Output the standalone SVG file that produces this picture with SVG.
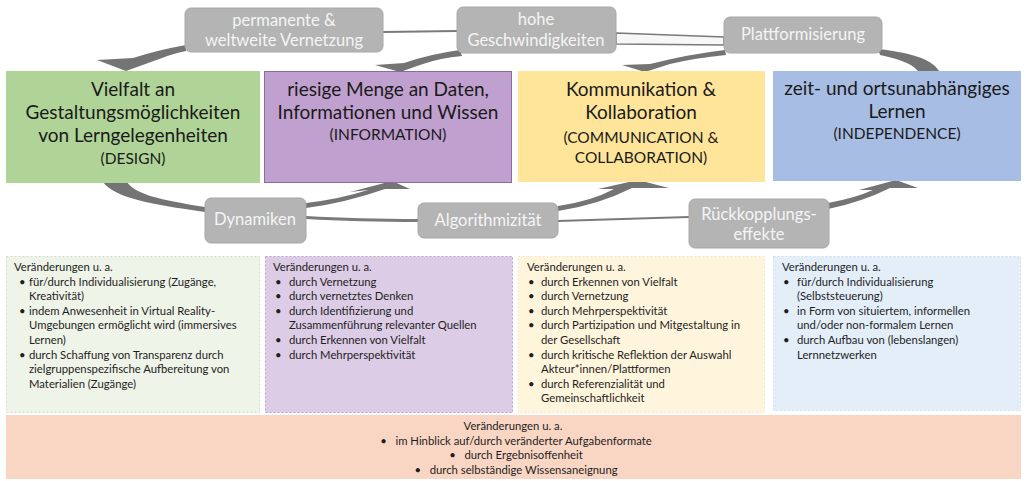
<svg xmlns="http://www.w3.org/2000/svg" width="1026" height="481" viewBox="0 0 1026 481">
<style>
.big{font-family:Lato,"Liberation Sans",sans-serif;font-size:19px;fill:#1a1a1a;text-anchor:middle}
.sub{font-family:Lato,"Liberation Sans",sans-serif;font-size:15.5px;fill:#1a1a1a;text-anchor:middle}
.lbl{fill:#b4b4b4;stroke:#a8a8a8;stroke-width:1}
.lt{font-family:Lato,"Liberation Sans",sans-serif;font-size:16.5px;fill:#f4f4f4;text-anchor:middle}
.sm{font-family:Lato,"Liberation Sans",sans-serif;font-size:11.3px;fill:#1e1e1e}
.smc{font-family:Lato,"Liberation Sans",sans-serif;font-size:11.3px;fill:#1e1e1e;text-anchor:middle;white-space:pre}
.arr{fill:#747474}
.ln{fill:none;stroke:#7a7a7a;stroke-width:2}
</style>
<rect width="1026" height="481" fill="#ffffff"/>

<g id="connectors">
  <path class="ln" d="M383 32 L457 31"/>
  <path d="M616 33 C650 34 690 36 724 37 L724 45 C690 45 650 44 616 44 Z" fill="#f7f7f7" stroke="#7a7a7a" stroke-width="1.5"/>
  <path class="arr" d="M186 45 Q158 50 133 58 L97 60 L126 71 L162 58 Q172 54 186 51 Z"/>
  <path class="arr" d="M460 50 Q430 54 404 63 L375 65 L400 72 L423 64 Q440 58 462 56 Z"/>
  <path class="arr" d="M725 50 Q690 54 650 64 L622 65 L645 72 L670 64 Q695 58 726 55 Z"/>
  <path class="arr" d="M878 49 C905 52 932 58 939 71 L918 71 C912 63 895 58 880 55 Z"/>
  <path class="arr" d="M103 182 C115 198 150 204 205 212 L205 207 C160 200 135 194 127 182 Z"/>
  <path class="arr" d="M306 203 Q340 199 368 190 L350 192 L392 181 L410 189 L385 189 Q345 203 306 208 Z"/>
  <path d="M306 216 C340 218 380 219 418 219 L418 222 C380 222 340 221 306 219 Z" fill="#7a7a7a"/>
  <path class="arr" d="M558 206 Q592 201 614 189 L598 189 L638 180 L669 188 L632 188 Q598 205 558 211 Z"/>
  <path class="ln" d="M558 221 C600 220 650 218 689 217"/>
  <path class="arr" d="M828 203 Q855 198 873 190 L859 190 L896 180 L918 188 L890 188 Q862 202 828 209 Z"/>
</g>

<g id="lbl-vernetzung">
  <rect class="lbl" x="185" y="8" width="198" height="44" rx="6"/>
  <text class="lt" x="284" y="26">permanente &amp;</text>
  <text class="lt" x="284" y="46">weltweite Vernetzung</text>
</g>
<g id="lbl-geschwindigkeiten">
  <rect class="lbl" x="457" y="7" width="159" height="46" rx="6"/>
  <text class="lt" x="536" y="25">hohe</text>
  <text class="lt" x="536" y="46">Geschwindigkeiten</text>
</g>
<g id="lbl-plattformisierung">
  <rect class="lbl" x="724" y="17" width="158" height="36" rx="6"/>
  <text class="lt" x="803" y="40">Plattformisierung</text>
</g>
<g id="lbl-dynamiken">
  <rect class="lbl" x="205" y="198" width="101" height="45" rx="6"/>
  <text class="lt" x="255" y="225">Dynamiken</text>
</g>
<g id="lbl-algorithmizitaet">
  <rect class="lbl" x="418" y="203" width="140" height="35" rx="6"/>
  <text class="lt" x="488" y="226">Algorithmizität</text>
</g>
<g id="lbl-rueckkopplung">
  <rect class="lbl" x="689" y="199" width="140" height="49" rx="6"/>
  <text class="lt" x="759" y="220">Rückkopplungs-</text>
  <text class="lt" x="759" y="240">effekte</text>
</g>

<g id="design">
  <rect x="6" y="71" width="254" height="112" fill="#b0d498"/>
  <text class="big" x="133" y="96">Vielfalt an</text>
  <text class="big" x="133" y="119">Gestaltungsmöglichkeiten</text>
  <text class="big" x="133" y="142">von Lerngelegenheiten</text>
  <text class="sub" x="133" y="164">(DESIGN)</text>
</g>
<g id="information">
  <rect x="264.5" y="71.5" width="247" height="111" fill="#c0a0ce" stroke="#8e6aa4" stroke-width="1"/>
  <text class="big" x="388" y="96">riesige Menge an Daten,</text>
  <text class="big" x="388" y="119">Informationen und Wissen</text>
  <text class="sub" x="388" y="140">(INFORMATION)</text>
</g>
<g id="communication">
  <rect x="518" y="71" width="247" height="111" fill="#ffe599"/>
  <text class="big" x="641" y="96">Kommunikation &amp;</text>
  <text class="big" x="641" y="119">Kollaboration</text>
  <text class="sub" x="641" y="143">(COMMUNICATION &amp;</text>
  <text class="sub" x="641" y="163">COLLABORATION)</text>
</g>
<g id="independence">
  <rect x="773" y="71" width="248" height="110" fill="#a8bde4"/>
  <text class="big" x="897" y="95">zeit- und ortsunabhängiges</text>
  <text class="big" x="897" y="118">Lernen</text>
  <text class="sub" x="897" y="139">(INDEPENDENCE)</text>
</g>

<g id="changes-design">
  <rect x="6.5" y="256.5" width="253" height="156" fill="#eef4e8" stroke="#d3dccb" stroke-dasharray="2 2"/>
  <text class="sm" x="14" y="271">Veränderungen u. a.</text>
  <text class="sm" x="19" y="285.6">•</text><text class="sm" x="29" y="285.6">für/durch Individualisierung (Zugänge,</text>
  <text class="sm" x="29" y="300.2">Kreativität)</text>
  <text class="sm" x="19" y="314.8">•</text><text class="sm" x="29" y="314.8">indem Anwesenheit in Virtual Reality-</text>
  <text class="sm" x="29" y="329.4">Umgebungen ermöglicht wird (immersives</text>
  <text class="sm" x="29" y="344">Lernen)</text>
  <text class="sm" x="19" y="358.6">•</text><text class="sm" x="29" y="358.6">durch Schaffung von Transparenz durch</text>
  <text class="sm" x="29" y="373.2">zielgruppenspezifische Aufbereitung von</text>
  <text class="sm" x="29" y="387.8">Materialien (Zugänge)</text>
</g>
<g id="changes-information">
  <rect x="265.5" y="256.5" width="247" height="156" fill="#dccce6" stroke="#b9a3c8" stroke-dasharray="2 2"/>
  <text class="sm" x="273" y="271">Veränderungen u. a.</text>
  <text class="sm" x="275" y="285.6">•</text><text class="sm" x="289" y="285.6">durch Vernetzung</text>
  <text class="sm" x="275" y="300.2">•</text><text class="sm" x="289" y="300.2">durch vernetztes Denken</text>
  <text class="sm" x="275" y="314.8">•</text><text class="sm" x="289" y="314.8">durch Identifizierung und</text>
  <text class="sm" x="289" y="329.4">Zusammenführung relevanter Quellen</text>
  <text class="sm" x="275" y="344">•</text><text class="sm" x="289" y="344">durch Erkennen von Vielfalt</text>
  <text class="sm" x="275" y="358.6">•</text><text class="sm" x="289" y="358.6">durch Mehrperspektivität</text>
</g>
<g id="changes-communication">
  <rect x="518.5" y="256.5" width="246" height="156" fill="#fff5dc" stroke="#f4e8c8" stroke-dasharray="2 2"/>
  <text class="sm" x="527" y="271">Veränderungen u. a.</text>
  <text class="sm" x="528" y="285.6">•</text><text class="sm" x="541" y="285.6">durch Erkennen von Vielfalt</text>
  <text class="sm" x="528" y="300.2">•</text><text class="sm" x="541" y="300.2">durch Vernetzung</text>
  <text class="sm" x="528" y="314.8">•</text><text class="sm" x="541" y="314.8">durch Mehrperspektivität</text>
  <text class="sm" x="528" y="329.4">•</text><text class="sm" x="541" y="329.4">durch Partizipation und Mitgestaltung in</text>
  <text class="sm" x="541" y="344">der Gesellschaft</text>
  <text class="sm" x="528" y="358.6">•</text><text class="sm" x="541" y="358.6">durch kritische Reflektion der Auswahl</text>
  <text class="sm" x="541" y="373.2">Akteur*innen/Plattformen</text>
  <text class="sm" x="528" y="387.8">•</text><text class="sm" x="541" y="387.8">durch Referenzialität und</text>
  <text class="sm" x="541" y="402.4">Gemeinschaftlichkeit</text>
</g>
<g id="changes-independence">
  <rect x="773.5" y="256.5" width="247" height="154" fill="#e3eef9" stroke="#d2dfee" stroke-dasharray="2 2"/>
  <text class="sm" x="782" y="271">Veränderungen u. a.</text>
  <text class="sm" x="783" y="285.6">•</text><text class="sm" x="797" y="285.6">für/durch Individualisierung</text>
  <text class="sm" x="797" y="300.2">(Selbststeuerung)</text>
  <text class="sm" x="783" y="314.8">•</text><text class="sm" x="797" y="314.8">in Form von situiertem, informellen</text>
  <text class="sm" x="797" y="329.4">und/oder non-formalem Lernen</text>
  <text class="sm" x="783" y="344">•</text><text class="sm" x="797" y="344">durch Aufbau von (lebenslangen)</text>
  <text class="sm" x="797" y="358.6">Lernnetzwerken</text>
</g>
<g id="changes-general">
  <rect x="6" y="415" width="1015" height="64" fill="#f9d6c3"/>
  <text class="smc" x="513" y="430">Veränderungen u. a.</text>
  <text class="smc" x="516" y="444.5" xml:space="preserve">•   im Hinblick auf/durch veränderter Aufgabenformate</text>
  <text class="smc" x="516" y="459" xml:space="preserve">•   durch Ergebnisoffenheit</text>
  <text class="smc" x="516" y="473.5" xml:space="preserve">•   durch selbständige Wissensaneignung</text>
</g>
</svg>
